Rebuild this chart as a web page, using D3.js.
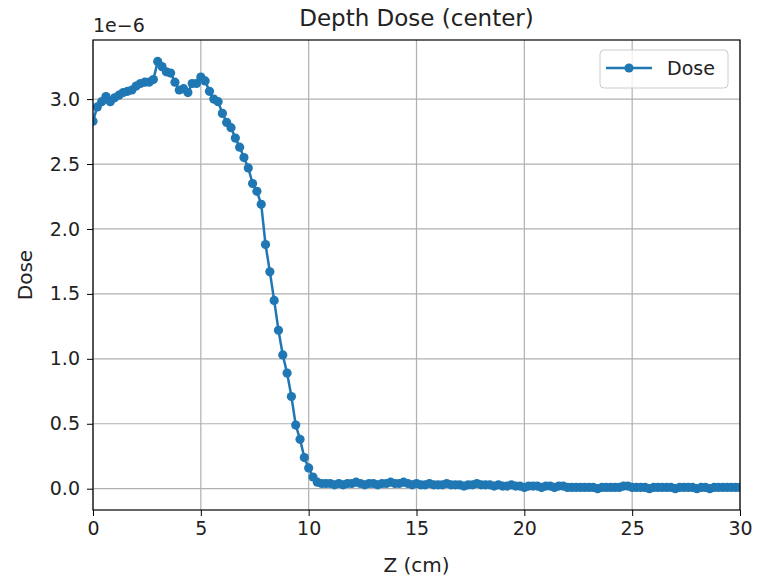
<!DOCTYPE html>
<html>
<head>
<meta charset="utf-8">
<script src="https://cdn.jsdelivr.net/npm/d3@7"></script>
<style>
  body { margin: 0; background: #fff; }
  svg { font-family: "DejaVu Sans", sans-serif; }
</style>
</head>
<body>
<svg id="drawing_region"></svg>
<script>
// depth positions (cm)
const zValues = [
  0.0, 0.2, 0.4, 0.6, 0.8, 1.0, 1.2, 1.4, 1.6, 1.8,
  2.0, 2.2, 2.4, 2.6, 2.8, 3.0, 3.2, 3.4, 3.6, 3.8,
  4.0, 4.2, 4.4, 4.6, 4.8, 5.0, 5.2, 5.4, 5.6, 5.8,
  6.0, 6.2, 6.4, 6.6, 6.8, 7.0, 7.2, 7.4, 7.6, 7.8,
  8.0, 8.2, 8.4, 8.6, 8.8, 9.0, 9.2, 9.4, 9.6, 9.8,
  10.0, 10.2, 10.4, 10.6, 10.8, 11.0, 11.2, 11.4, 11.6, 11.8,
  12.0, 12.2, 12.4, 12.6, 12.8, 13.0, 13.2, 13.4, 13.6, 13.8,
  14.0, 14.2, 14.4, 14.6, 14.8, 15.0, 15.2, 15.4, 15.6, 15.8,
  16.0, 16.2, 16.4, 16.6, 16.8, 17.0, 17.2, 17.4, 17.6, 17.8,
  18.0, 18.2, 18.4, 18.6, 18.8, 19.0, 19.2, 19.4, 19.6, 19.8,
  20.0, 20.2, 20.4, 20.6, 20.8, 21.0, 21.2, 21.4, 21.6, 21.8,
  22.0, 22.2, 22.4, 22.6, 22.8, 23.0, 23.2, 23.4, 23.6, 23.8,
  24.0, 24.2, 24.4, 24.6, 24.8, 25.0, 25.2, 25.4, 25.6, 25.8,
  26.0, 26.2, 26.4, 26.6, 26.8, 27.0, 27.2, 27.4, 27.6, 27.8,
  28.0, 28.2, 28.4, 28.6, 28.8, 29.0, 29.2, 29.4, 29.6, 29.8,
  30.0
];

// dose, in units of 1e-6
const doseValues = [
  2.83, 2.94, 2.98, 3.02, 2.98, 3.01, 3.03, 3.05, 3.06, 3.07,
  3.10, 3.12, 3.13, 3.13, 3.15, 3.29, 3.25, 3.21, 3.20, 3.13,
  3.07, 3.08, 3.05, 3.12, 3.12, 3.17, 3.14, 3.06, 3.00, 2.98,
  2.89, 2.82, 2.78, 2.70, 2.63, 2.55, 2.47, 2.35, 2.29, 2.19,
  1.88, 1.67, 1.45, 1.22, 1.03, 0.89, 0.71, 0.49, 0.38, 0.24,
  0.16, 0.09, 0.05, 0.04, 0.04, 0.04, 0.03, 0.04, 0.03, 0.04,
  0.04, 0.05, 0.04, 0.03, 0.04, 0.04, 0.03, 0.04, 0.04, 0.05,
  0.04, 0.04, 0.05, 0.04, 0.03, 0.04, 0.03, 0.03, 0.04, 0.03,
  0.03, 0.03, 0.04, 0.03, 0.03, 0.03, 0.02, 0.03, 0.03, 0.04,
  0.03, 0.03, 0.03, 0.02, 0.03, 0.02, 0.02, 0.03, 0.02, 0.02,
  0.01, 0.02, 0.02, 0.02, 0.01, 0.02, 0.02, 0.01, 0.02, 0.02,
  0.01, 0.01, 0.01, 0.01, 0.01, 0.01, 0.01, 0.00, 0.01, 0.01,
  0.01, 0.01, 0.01, 0.02, 0.02, 0.01, 0.01, 0.01, 0.01, 0.00,
  0.01, 0.01, 0.01, 0.01, 0.01, 0.00, 0.01, 0.01, 0.01, 0.01,
  0.00, 0.01, 0.01, 0.00, 0.01, 0.01, 0.01, 0.01, 0.01, 0.01,
  0.01
];

const xTicks = [0, 5, 10, 15, 20, 25, 30];
const yTicks = [0.0, 0.5, 1.0, 1.5, 2.0, 2.5, 3.0];

const data = zValues.map((z, i) => ({ z: z, dose: doseValues[i] }));

const width = 757, height = 579;
const margin = { top: 40, right: 17, bottom: 69, left: 93 };
const innerW = width - margin.left - margin.right;
const innerH = height - margin.top - margin.bottom;
const color = '#1f77b4';

const svg = d3.select('#drawing_region')
  .attr('width', width)
  .attr('height', height);

const chart = svg.append('g')
  .attr('transform', `translate(${margin.left}, ${margin.top})`);

const xscale = d3.scaleLinear().domain([0, 30]).range([0, innerW]);
const yscale = d3.scaleLinear().domain([-0.164, 3.455]).range([innerH, 0]);

// grid
chart.append('g')
  .selectAll('line.gx')
  .data(xTicks)
  .join('line')
  .attr('x1', d => xscale(d)).attr('x2', d => xscale(d))
  .attr('y1', 0).attr('y2', innerH)
  .attr('stroke', '#b0b0b0').attr('stroke-width', 1.2);
chart.append('g')
  .selectAll('line.gy')
  .data(yTicks)
  .join('line')
  .attr('y1', d => yscale(d)).attr('y2', d => yscale(d))
  .attr('x1', 0).attr('x2', innerW)
  .attr('stroke', '#b0b0b0').attr('stroke-width', 1.2);

// axes
const xaxis = d3.axisBottom(xscale).tickValues(xTicks).tickSize(6).tickSizeOuter(0).tickPadding(6)
  .tickFormat(d3.format('d'));
const yaxis = d3.axisLeft(yscale).tickValues(yTicks).tickSize(6).tickSizeOuter(0).tickPadding(7)
  .tickFormat(d3.format('.1f'));

const xg = chart.append('g')
  .attr('transform', `translate(0, ${innerH})`)
  .call(xaxis);
const yg = chart.append('g').call(yaxis);
[xg, yg].forEach(g => {
  g.select('.domain').remove();
  g.selectAll('text').attr('font-size', 19).attr('fill', '#222').attr('font-family', 'DejaVu Sans');
  g.selectAll('line').attr('stroke', '#000').attr('stroke-width', 1);
});

// line + markers
const line = d3.line()
  .x(d => xscale(d.z))
  .y(d => yscale(d.dose));

const clip = chart.append('clipPath').attr('id', 'clip')
  .append('rect').attr('width', innerW).attr('height', innerH);

const plot = chart.append('g').attr('clip-path', 'url(#clip)');
plot.append('path')
  .attr('d', line(data))
  .attr('stroke', color)
  .attr('stroke-width', 2.5)
  .attr('fill', 'none');
plot.selectAll('circle')
  .data(data)
  .join('circle')
  .attr('cx', d => xscale(d.z))
  .attr('cy', d => yscale(d.dose))
  .attr('r', 4.6)
  .attr('fill', color);

// frame
chart.append('rect')
  .attr('width', innerW).attr('height', innerH)
  .attr('fill', 'none').attr('stroke', '#000').attr('stroke-width', 1.2);

// texts
svg.append('text')
  .attr('x', margin.left + innerW / 2).attr('y', 26)
  .attr('text-anchor', 'middle').attr('font-size', 23).attr('fill', '#222')
  .text('Depth Dose (center)');
svg.append('text')
  .attr('x', margin.left + innerW / 2).attr('y', 572)
  .attr('text-anchor', 'middle').attr('font-size', 20).attr('fill', '#222')
  .text('Z (cm)');
svg.append('text')
  .attr('transform', `translate(32, ${margin.top + innerH / 2}) rotate(-90)`)
  .attr('text-anchor', 'middle').attr('font-size', 20).attr('fill', '#222')
  .text('Dose');
svg.append('text')
  .attr('x', 93).attr('y', 32)
  .attr('font-size', 19).attr('fill', '#222')
  .text('1e\u22126');

// legend
const legend = chart.append('g').attr('transform', `translate(${innerW - 140}, 10)`);
legend.append('rect')
  .attr('width', 128).attr('height', 38).attr('rx', 4)
  .attr('fill', '#fff').attr('fill-opacity', 0.8)
  .attr('stroke', '#cccccc');
legend.append('line')
  .attr('x1', 6).attr('x2', 52).attr('y1', 18).attr('y2', 18)
  .attr('stroke', color).attr('stroke-width', 2.5);
legend.append('circle')
  .attr('cx', 29).attr('cy', 18).attr('r', 4.6).attr('fill', color);
legend.append('text')
  .attr('x', 67).attr('y', 25).attr('font-size', 19).attr('fill', '#222')
  .text('Dose');
</script>
</body>
</html>
